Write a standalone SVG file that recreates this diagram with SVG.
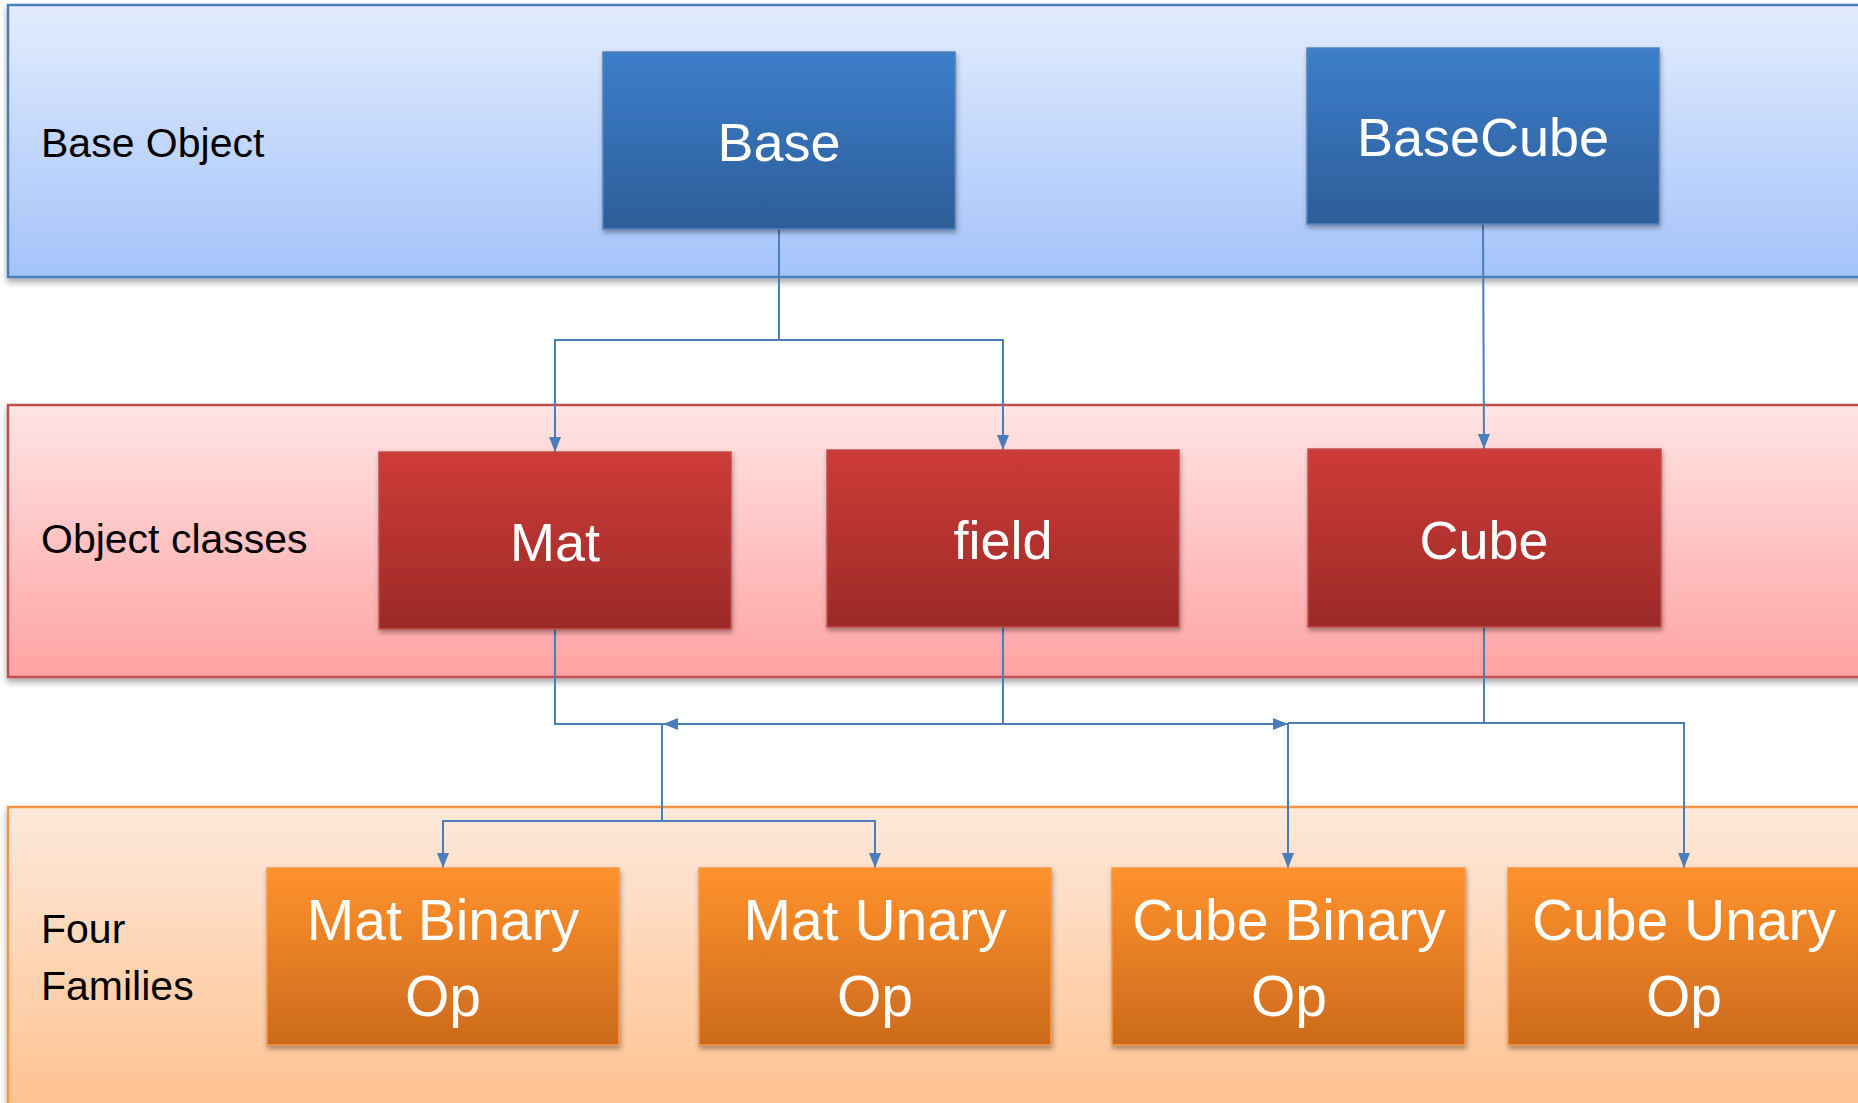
<svg xmlns="http://www.w3.org/2000/svg" width="1858" height="1103" viewBox="0 0 1858 1103">
<defs>
<linearGradient id="gBandBlue" x1="0" y1="0" x2="0" y2="1"><stop offset="0" stop-color="#E3ECFD"/><stop offset="1" stop-color="#A3C3FA"/></linearGradient>
<linearGradient id="gBandRed" x1="0" y1="0" x2="0" y2="1"><stop offset="0" stop-color="#FFE4E4"/><stop offset="1" stop-color="#FFA3A3"/></linearGradient>
<linearGradient id="gBandOrange" x1="0" y1="0" x2="0" y2="1"><stop offset="0" stop-color="#FDE9DA"/><stop offset="1" stop-color="#FFBF8C"/></linearGradient>
<linearGradient id="gBoxBlue" x1="0" y1="0" x2="0" y2="1"><stop offset="0" stop-color="#3C7ECB"/><stop offset="1" stop-color="#2D5D98"/></linearGradient>
<linearGradient id="gBoxRed" x1="0" y1="0" x2="0" y2="1"><stop offset="0" stop-color="#CE3B37"/><stop offset="1" stop-color="#9B2A28"/></linearGradient>
<linearGradient id="gBoxOrange" x1="0" y1="0" x2="0" y2="1"><stop offset="0" stop-color="#FF922C"/><stop offset="1" stop-color="#CC6A1D"/></linearGradient>
<filter id="shadow" x="-5%" y="-5%" width="110%" height="120%"><feDropShadow dx="0" dy="4" stdDeviation="3" flood-color="#000" flood-opacity="0.35"/></filter>
<filter id="bshadow" x="-5%" y="-5%" width="110%" height="120%"><feDropShadow dx="1" dy="3" stdDeviation="2.5" flood-color="#000" flood-opacity="0.35"/></filter>
<marker id="arrow" viewBox="0 0 15 12" refX="15" refY="6" markerWidth="15" markerHeight="12" markerUnits="userSpaceOnUse" orient="auto"><path d="M0,0 L15,6 L0,12 Z" fill="#4A7EBB"/></marker>
</defs>
<style>
.band-label{font-family:"Liberation Sans",Arial,sans-serif;font-size:41px;fill:#000}
.node-label{font-family:"Liberation Sans",Arial,sans-serif;font-size:54px;fill:#fff;text-anchor:middle}
.op-label{font-size:57px}
.conn{fill:none;stroke:#4A7EBB;stroke-width:2}
.bandBlue{fill:url(#gBandBlue);stroke:#4A7EBB;stroke-width:2.5}
.bandRed{fill:url(#gBandRed);stroke:#C0504D;stroke-width:2.5}
.bandOrange{fill:url(#gBandOrange);stroke:#F79646;stroke-width:2.5}
.boxBlue{fill:url(#gBoxBlue);stroke:#4F81BD;stroke-width:1.5}
.boxRed{fill:url(#gBoxRed);stroke:#C0504D;stroke-width:1.5}
.boxOrange{fill:url(#gBoxOrange);stroke:#F79646;stroke-width:1.5}
</style>
<rect width="1858" height="1103" fill="#fff"/>
<g id="band-base">
<rect class="bandBlue" x="8" y="5" width="1900" height="272" filter="url(#shadow)"/>
<text class="band-label" x="41" y="157">Base Object</text>
</g>
<g id="band-classes">
<rect class="bandRed" x="8" y="405" width="1900" height="272" filter="url(#shadow)"/>
<text class="band-label" x="41" y="553">Object classes</text>
</g>
<g id="band-families">
<rect class="bandOrange" x="8" y="807" width="1900" height="320" filter="url(#shadow)"/>
<text class="band-label" x="41" y="943">Four</text>
<text class="band-label" x="41" y="1000">Families</text>
</g>
<g id="connectors">
<path class="conn" d="M779,229 V340 H555 V452" marker-end="url(#arrow)"/>
<path class="conn" d="M779,340 H1003 V450" marker-end="url(#arrow)"/>
<path class="conn" d="M1483,224 L1484,449" marker-end="url(#arrow)"/>
<path class="conn" d="M555,629 V724 H663"/>
<path class="conn" d="M1003,627 V724 H663" marker-end="url(#arrow)"/>
<path class="conn" d="M1003,724 H1288" marker-end="url(#arrow)"/>
<path class="conn" d="M1484,627 V723 H1288"/>
<path class="conn" d="M1484,723 H1684 V868" marker-end="url(#arrow)"/>
<path class="conn" d="M1288,723 V868" marker-end="url(#arrow)"/>
<path class="conn" d="M662,724 V821 H443 V868" marker-end="url(#arrow)"/>
<path class="conn" d="M662,821 H875 V868" marker-end="url(#arrow)"/>
</g>
<g id="node-base">
<rect class="boxBlue" x="603" y="52" width="352" height="177" filter="url(#bshadow)"/>
<text class="node-label" x="779" y="161">Base</text>
</g>
<g id="node-basecube">
<rect class="boxBlue" x="1307" y="48" width="352" height="176" filter="url(#bshadow)"/>
<text class="node-label" x="1483" y="156">BaseCube</text>
</g>
<g id="node-mat">
<rect class="boxRed" x="379" y="452" width="352" height="177" filter="url(#bshadow)"/>
<text class="node-label" x="555" y="561">Mat</text>
</g>
<g id="node-field">
<rect class="boxRed" x="827" y="450" width="352" height="177" filter="url(#bshadow)"/>
<text class="node-label" x="1003" y="559">field</text>
</g>
<g id="node-cube">
<rect class="boxRed" x="1308" y="449" width="353" height="178" filter="url(#bshadow)"/>
<text class="node-label" x="1484" y="559">Cube</text>
</g>
<g id="node-mat-binary">
<rect class="boxOrange" x="267" y="868" width="352" height="177" filter="url(#bshadow)"/>
<text class="node-label op-label" x="443" y="940">Mat Binary</text>
<text class="node-label op-label" x="443" y="1016">Op</text>
</g>
<g id="node-mat-unary">
<rect class="boxOrange" x="699" y="868" width="352" height="177" filter="url(#bshadow)"/>
<text class="node-label op-label" x="875" y="940">Mat Unary</text>
<text class="node-label op-label" x="875" y="1016">Op</text>
</g>
<g id="node-cube-binary">
<rect class="boxOrange" x="1112" y="868" width="353" height="177" filter="url(#bshadow)"/>
<text class="node-label op-label" x="1289" y="940">Cube Binary</text>
<text class="node-label op-label" x="1289" y="1016">Op</text>
</g>
<g id="node-cube-unary">
<rect class="boxOrange" x="1508" y="868" width="353" height="177" filter="url(#bshadow)"/>
<text class="node-label op-label" x="1684" y="940">Cube Unary</text>
<text class="node-label op-label" x="1684" y="1016">Op</text>
</g>
</svg>
